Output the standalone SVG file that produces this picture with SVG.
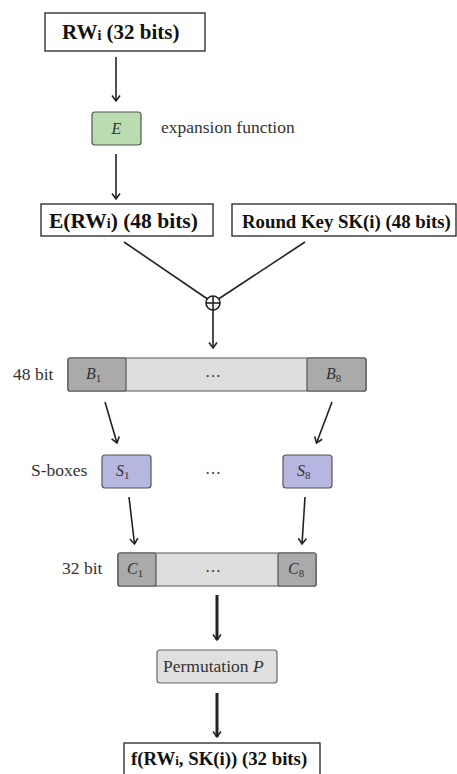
<svg xmlns="http://www.w3.org/2000/svg" width="457" height="774" viewBox="0 0 457 774">
<defs>
<style>
.box{fill:#fff;stroke:#222;stroke-width:1.3}
.bt{font-family:"Liberation Serif",serif;font-weight:bold;font-size:21px;fill:#111}
.lbl{font-family:"Liberation Serif",serif;font-size:17.5px;fill:#333}
.m{font-family:"Liberation Serif",serif;font-style:italic;font-size:16px;fill:#333}
.sub{font-family:"Liberation Serif",serif;font-style:normal;font-size:11px}
.dark{fill:#aaaaaa;stroke:#555;stroke-width:1.2}
.light{fill:#dedede;stroke:#555;stroke-width:1.2}
.c{fill:none;stroke:#222;stroke-width:1.6}
.thick{stroke-width:3}
.dots{font-family:"Liberation Serif",serif;font-size:16px;fill:#333}
</style>
<marker id="ah" markerWidth="12" markerHeight="12" refX="8" refY="6" orient="auto" markerUnits="userSpaceOnUse">
<path d="M2.5,2 L8,6 L2.5,10" fill="none" stroke="#222" stroke-width="1.6"/>
</marker>
</defs>
<rect width="457" height="774" fill="#fff"/>

<g id="connectors">
<line class="c" x1="116" y1="57" x2="116" y2="101" marker-end="url(#ah)"/>
<line class="c" x1="116" y1="154" x2="116" y2="199" marker-end="url(#ah)"/>
<line class="c" x1="124" y1="242" x2="207.5" y2="299"/>
<line class="c" x1="305" y1="242" x2="218.5" y2="299"/>
<line class="c" x1="213" y1="310" x2="213" y2="348" marker-end="url(#ah)"/>
<line class="c" x1="105" y1="402" x2="117" y2="443" marker-end="url(#ah)"/>
<line class="c" x1="332" y1="402" x2="316.5" y2="443" marker-end="url(#ah)"/>
<line class="c" x1="129" y1="497" x2="134.5" y2="544" marker-end="url(#ah)"/>
<line class="c" x1="305" y1="497" x2="302" y2="544" marker-end="url(#ah)"/>
<line class="c thick" x1="217" y1="595" x2="217" y2="640" marker-end="url(#ah)"/>
<line class="c thick" x1="217" y1="693" x2="217" y2="737" marker-end="url(#ah)"/>
</g>

<g id="rw">
<rect class="box" x="45" y="13" width="160" height="38"/>
<text class="bt" x="62" y="39">RW<tspan style="font-size:14px" dy="1">i</tspan><tspan dy="-1"> (32 bits)</tspan></text>
</g>

<g id="expansion">
<rect x="92" y="112" width="49" height="33" rx="3" fill="#b9dcb0" stroke="#555" stroke-width="1.2"/>
<text class="m" x="116.5" y="134" text-anchor="middle">E</text>
<text class="lbl" x="161" y="133">expansion function</text>
</g>

<g id="erw">
<rect class="box" x="41" y="204" width="172" height="32"/>
<text class="bt" x="49" y="228" style="font-size:21.5px">E(RW<tspan style="font-size:14px">i</tspan>) (48 bits)</text>
</g>

<g id="roundkey">
<rect class="box" x="232" y="204" width="224" height="32"/>
<text class="bt" x="242" y="228" style="font-size:18.8px">Round Key SK(i) (48 bits)</text>
</g>

<g id="xor">
<circle cx="213" cy="303" r="7" fill="#fff" stroke="#222" stroke-width="1.6"/>
<line x1="206" y1="303" x2="220" y2="303" stroke="#222" stroke-width="1.6"/>
<line x1="213" y1="296" x2="213" y2="310" stroke="#222" stroke-width="1.6"/>
</g>

<g id="bits48">
<text class="lbl" x="13" y="380">48 bit</text>
<rect class="light" x="68" y="358" width="298" height="33" rx="2"/>
<rect class="dark" x="68" y="358" width="58" height="33" rx="2"/>
<rect class="dark" x="307" y="358" width="59" height="33" rx="2"/>
<text class="m" x="86" y="379">B<tspan class="sub" dy="3">1</tspan></text>
<text class="m" x="326" y="379">B<tspan class="sub" dy="3">8</tspan></text>
<text class="dots" x="213" y="377" text-anchor="middle">…</text>
</g>

<g id="sboxes">
<text class="lbl" x="31" y="476">S-boxes</text>
<rect x="102" y="455" width="49" height="33" rx="3" fill="#b5b7e0" stroke="#555" stroke-width="1.2"/>
<text class="m" x="116" y="476">S<tspan class="sub" dy="3">1</tspan></text>
<text class="dots" x="213" y="474" text-anchor="middle">…</text>
<rect x="283" y="455" width="49" height="33" rx="3" fill="#b5b7e0" stroke="#555" stroke-width="1.2"/>
<text class="m" x="297" y="476">S<tspan class="sub" dy="3">8</tspan></text>
</g>

<g id="bits32">
<text class="lbl" x="62" y="574">32 bit</text>
<rect class="light" x="118" y="553" width="198" height="33" rx="2"/>
<rect class="dark" x="118" y="553" width="38" height="33" rx="2"/>
<rect class="dark" x="278" y="553" width="38" height="33" rx="2"/>
<text class="m" x="127" y="574">C<tspan class="sub" dy="3">1</tspan></text>
<text class="m" x="288" y="574">C<tspan class="sub" dy="3">8</tspan></text>
<text class="dots" x="213" y="572" text-anchor="middle">…</text>
</g>

<g id="permutation">
<rect x="157" y="650" width="120" height="33" rx="3" fill="#e0e0e0" stroke="#666" stroke-width="1.2"/>
<text class="lbl" x="163" y="672">Permutation <tspan style="font-style:italic">P</tspan></text>
</g>

<g id="output">
<rect class="box" x="124" y="743" width="196" height="40"/>
<text class="bt" x="131" y="765" style="font-size:18.8px">f(RW<tspan style="font-size:13px">i</tspan>, SK(i)) (32 bits)</text>
</g>
</svg>
